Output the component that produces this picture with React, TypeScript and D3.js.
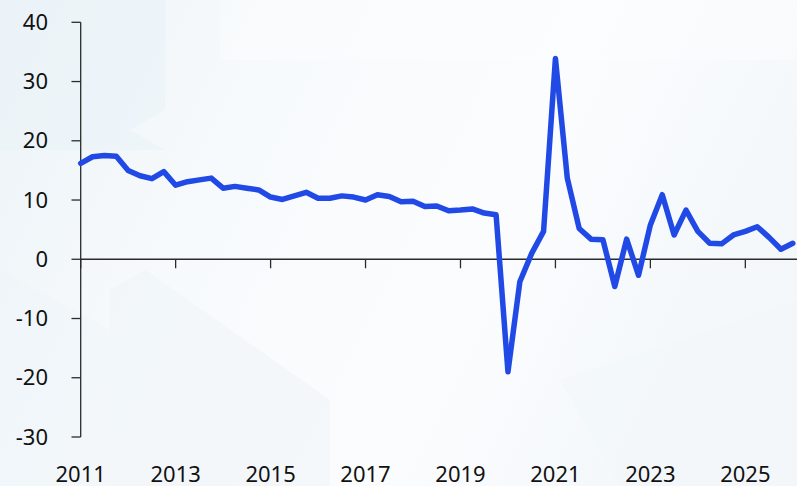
import React from "react";
import * as d3 from "d3";

// Quarterly growth rate, 2011Q1 – 2026Q1
const quarters: string[] = [];
for (let y = 2011; y <= 2026; y++) {
  for (let q = 1; q <= 4; q++) {
    if (y === 2026 && q > 1) break;
    quarters.push(`${y}Q${q}`);
  }
}

const values: number[] = [
  16.2, 17.3, 17.5, 17.4, 15.0, 14.1, 13.6, 14.8,
  12.5, 13.1, 13.4, 13.7, 12.0, 12.3, 12.0, 11.7,
  10.5, 10.1, 10.7, 11.3, 10.3, 10.3, 10.7, 10.5,
  10.0, 10.9, 10.6, 9.7, 9.8, 8.9, 9.0, 8.2,
  8.3, 8.5, 7.8, 7.5, -19.0, -3.8, 1.0, 4.7,
  33.9, 13.7, 5.2, 3.4, 3.3, -4.6, 3.4, -2.7,
  5.8, 10.9, 4.1, 8.3, 4.7, 2.7, 2.6, 4.1,
  4.7, 5.5, 3.7, 1.7, 2.7,
];

const yTicks = [-30, -20, -10, 0, 10, 20, 30, 40];
const xTickYears = [2011, 2013, 2015, 2017, 2019, 2021, 2023, 2025];
const xTickMarks = [2011, 2013, 2015, 2017, 2019, 2021, 2023, 2025];

const W = 797;
const H = 486;

function toYear(label: string): number {
  const [y, q] = label.split("Q").map(Number);
  return y + (q - 1) / 4;
}

export default function App() {
  const x = d3.scaleLinear().domain([2011, 2026]).range([80.7, 792.8]);
  const y = d3.scaleLinear().domain([-30, 40]).range([437.0, 22.3]);

  const data = quarters.map((q, i) => ({ t: toYear(q), v: values[i] }));
  const line = d3
    .line<{ t: number; v: number }>()
    .x((d) => x(d.t))
    .y((d) => y(d.v));

  const font = "'Noto Sans', sans-serif";
  const axisColor = "#2b2b2b";

  return (
    <svg
      width={W}
      height={H}
      style={{ position: "absolute", left: 0, top: 0, display: "block" }}
    >
      <defs>
        <linearGradient id="bg" x1="0" y1="0" x2="1" y2="0.3">
          <stop offset="0" stopColor="#ecf3f8" />
          <stop offset="0.35" stopColor="#f7fafc" />
          <stop offset="0.7" stopColor="#fbfcfe" />
          <stop offset="1" stopColor="#f4f8fb" />
        </linearGradient>
      </defs>
      <rect x={0} y={0} width={W} height={H} fill="url(#bg)" />
      {/* faint decorative panels */}
      <polygon points="0,0 165,0 165,110 130,130 165,150 0,150" fill="#e9f2f8" opacity={0.55} />
      <polygon points="110,290 145,270 330,400 330,486 110,486" fill="#eef4f8" opacity={0.5} />
      <polygon points="220,0 797,0 797,60 220,60" fill="#ffffff" opacity={0.3} />
      <polygon points="560,380 797,300 797,486 620,486" fill="#f2f7fa" opacity={0.6} />
      <polygon points="0,270 110,330 110,486 0,486" fill="#edf4f8" opacity={0.45} />

      {/* y axis */}
      <line x1={80.7} x2={80.7} y1={y(40)} y2={y(-30)} stroke={axisColor} strokeWidth={1.3} />
      {yTicks.map((t) => (
        <g key={t}>
          <line x1={71.5} x2={80.7} y1={y(t)} y2={y(t)} stroke={axisColor} strokeWidth={1.3} />
          <text
            x={48}
            y={y(t)}
            dy="0.35em"
            textAnchor="end"
            fontFamily={font}
            fontSize={22}
            fill="#111"
          >
            {t}
          </text>
        </g>
      ))}

      {/* zero line with year ticks */}
      <line x1={80.7} x2={W} y1={y(0)} y2={y(0)} stroke={axisColor} strokeWidth={1.3} />
      {xTickMarks.map((yr) => (
        <line
          key={yr}
          x1={x(yr)}
          x2={x(yr)}
          y1={y(0)}
          y2={y(0) + 9}
          stroke={axisColor}
          strokeWidth={1.3}
        />
      ))}
      {xTickYears.map((yr) => (
        <text
          key={yr}
          x={x(yr)}
          y={482}
          textAnchor="middle"
          fontFamily={font}
          fontSize={22}
          fill="#111"
        >
          {yr}
        </text>
      ))}

      <path
        d={line(data) || ""}
        fill="none"
        stroke="#2049e6"
        strokeWidth={5.5}
        strokeLinejoin="round"
        strokeLinecap="round"
      />
    </svg>
  );
}
